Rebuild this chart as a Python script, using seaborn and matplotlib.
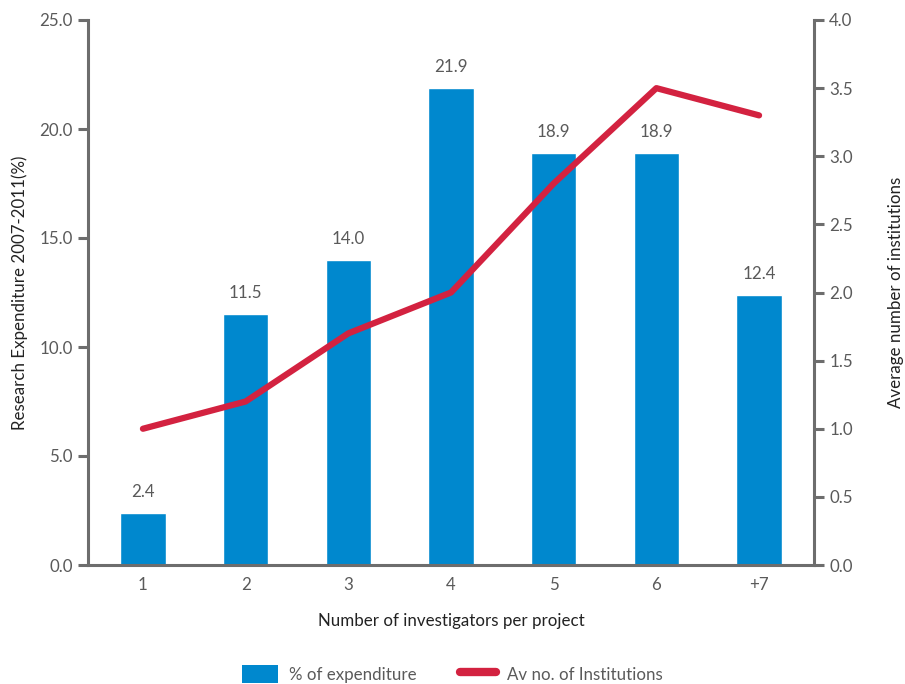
import numpy as np
import pandas as pd
import matplotlib
matplotlib.use("Agg")
import matplotlib.pyplot as plt
import seaborn as sns
from matplotlib.patches import Patch
from matplotlib.lines import Line2D

categories = ["1", "2", "3", "4", "5", "6", "+7"]
pct_expenditure = [2.4, 11.5, 14.0, 21.9, 18.9, 18.9, 12.4]
avg_institutions = [1.0, 1.2, 1.7, 2.0, 2.8, 3.5, 3.3]

sns.set_theme(style="white")
plt.rcParams["font.family"] = ["Lato", "DejaVu Sans"]

BLUE = "#0088CE"
RED = "#D32240"
SPINE = "#6d6d6d"
TXT = "#5a5a5a"
DARK = "#222222"
FS = 12.2

fig = plt.figure(figsize=(9.05, 6.84), dpi=100)
ax = fig.add_axes([88 / 905, 1 - 565 / 684, (814 - 88) / 905, (565 - 20) / 684])

df = pd.DataFrame({"n": categories, "pct": pct_expenditure, "inst": avg_institutions})
sns.barplot(data=df, x="n", y="pct", order=categories, color=BLUE, saturation=1,
            width=0.44, ax=ax)

ax.set_xlim(-0.535, len(categories) - 0.465)
ax.set_ylim(0, 25)
ax.set_yticks(np.arange(0, 25.1, 5))
ax.set_yticklabels([f"{v:.1f}" for v in np.arange(0, 25.1, 5)])

for i, v in enumerate(pct_expenditure):
    ax.text(i, v + 0.6, f"{v:.1f}", ha="center", va="bottom", fontsize=FS,
            color=TXT)

ax2 = ax.twinx()
sns.lineplot(x=np.arange(len(categories)), y=df["inst"], color=RED, lw=4.5,
             ax=ax2, solid_capstyle="round", solid_joinstyle="round")
ax2.set_ylim(0, 4)
ax2.set_yticks(np.arange(0, 4.01, 0.5))
ax2.set_yticklabels([f"{v:.1f}" for v in np.arange(0, 4.01, 0.5)])

for a in (ax, ax2):
    for s in a.spines.values():
        s.set_visible(False)
    a.tick_params(axis="y", colors=SPINE, labelcolor=TXT, labelsize=FS,
                  length=7, width=2.2, direction="out", pad=4)
    a.grid(False)

ax.spines["left"].set_visible(True)
ax.spines["bottom"].set_visible(True)
ax2.spines["right"].set_visible(True)
for s in (ax.spines["left"], ax.spines["bottom"], ax2.spines["right"]):
    s.set_color(SPINE)
    s.set_linewidth(2.2)

ax.tick_params(axis="x", length=0, labelcolor=TXT, labelsize=FS, pad=9)

ax.set_xlabel("Number of investigators per project", fontsize=FS, color=DARK,
              labelpad=14)
ax.set_ylabel("Research Expenditure 2007-2011(%)", fontsize=FS, color=DARK,
              labelpad=8)
ax2.set_ylabel("Average number of institutions", fontsize=FS, color=DARK,
               labelpad=25)
ax2.set_xlabel("")

handles = [Patch(facecolor=BLUE, edgecolor="none", label="% of expenditure"),
           Line2D([0], [0], color=RED, lw=6, solid_capstyle="round",
                  label="Av no. of Institutions")]
leg = fig.legend(handles=handles, loc="center", bbox_to_anchor=(0.5, 1 - 674 / 684),
                 ncol=2, frameon=False, fontsize=FS, handlelength=2.1,
                 handleheight=1.3, columnspacing=2.6, handletextpad=0.65)
for t in leg.get_texts():
    t.set_color(TXT)

fig.savefig("out.png", dpi=100)
